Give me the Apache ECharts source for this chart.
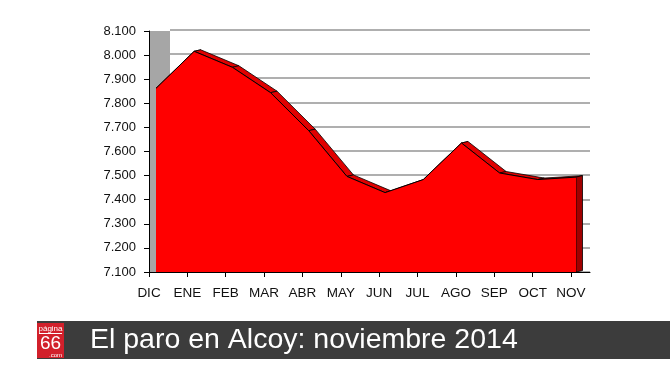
<!DOCTYPE html>
<html>
<head>
<meta charset="utf-8">
<script src="https://cdn.jsdelivr.net/npm/echarts@6/dist/echarts.min.js"></script>
<style>
html,body{margin:0;padding:0;background:#fff;}
#c{width:670px;height:377px;}
</style>
</head>
<body>
<div id="c"></div>
<script>
const categories = ['DIC','ENE','FEB','MAR','ABR','MAY','JUN','JUL','AGO','SEP','OCT','NOV'];
const paro = [7859, 8012, 7946, 7841, 7684, 7495, 7428, 7482, 7633, 7509, 7482, 7492];
const yMin = 7100;
const yMax = 8100;
const yStep = 100;
const titleText = 'El paro en Alcoy: noviembre 2014';

const FONT = '"Liberation Sans", Arial, sans-serif';
const chart = echarts.init(document.getElementById('c'), null, {renderer: 'canvas'});

const hiddenValueX = i => ({type: 'value', gridIndex: i, show: false});
const hiddenValueY = i => ({type: 'value', gridIndex: i, show: false, min: yMin, max: yMax});

chart.setOption({
  animation: false,
  backgroundColor: '#ffffff',
  grid: [
    {left: 149, top: 31, width: 441, height: 241},                    // y labels
    {left: 170, top: 29.5, width: 420, height: 242.5},                // back wall
    {left: 149, top: 30, width: 422, height: 242},                    // category axis
    {left: 150, top: 31, width: 20, height: 241, show: true,
     backgroundColor: '#a6a6a6', borderWidth: 0},                     // side wall
    {left: 156, top: 30, width: 420, height: 242}                     // front face
  ],
  xAxis: [
    hiddenValueX(0),
    {type: 'value', gridIndex: 1, min: 0, max: 1, z: 10,
     axisLine: {show: true, lineStyle: {color: '#000', width: 1}},
     axisTick: {show: false}, axisLabel: {show: false}, splitLine: {show: false}},
    {type: 'category', gridIndex: 2, data: categories, boundaryGap: false, z: 10,
     axisLine: {show: true, lineStyle: {color: '#000', width: 1}},
     axisTick: {show: true, length: 5, lineStyle: {color: '#000'}},
     axisLabel: {color: '#111', fontSize: 13.5, fontFamily: FONT, margin: 14, interval: 0},
     splitLine: {show: false}},
    {type: 'value', gridIndex: 3, show: false},
    {type: 'category', gridIndex: 4, data: categories, boundaryGap: false, show: false}
  ],
  yAxis: [
    {type: 'value', gridIndex: 0, min: yMin, max: yMax, interval: yStep, z: 10,
     axisLine: {show: true, lineStyle: {color: '#000', width: 1}},
     axisTick: {show: true, length: 5, lineStyle: {color: '#000'}},
     axisLabel: {color: '#111', fontSize: 13, fontFamily: FONT, margin: 13,
                 formatter: v => (v / 1000).toFixed(3)},
     splitLine: {show: false}},
    {type: 'value', gridIndex: 1, min: yMin, max: yMax, interval: yStep,
     axisLine: {show: false}, axisTick: {show: false}, axisLabel: {show: false},
     splitLine: {show: true, lineStyle: {color: '#959595', width: 1.5}}},
    hiddenValueY(2),
    hiddenValueY(3),
    {type: 'value', gridIndex: 4, min: yMin, max: yMax, show: false}
  ],
  series: [
    {
      type: 'custom',
      xAxisIndex: 4, yAxisIndex: 4,
      z: 2,
      silent: true,
      data: paro.map((v, i) => [i, v]),
      encode: {x: 0, y: 1},
      renderItem: function (params, api) {
        const i = params.dataIndex;
        const dx = 6.5, dy = -1.5;
        const p = api.coord([i, paro[i]]);
        let pts, fill;
        if (i < paro.length - 1) {
          const q = api.coord([i + 1, paro[i + 1]]);
          pts = [p, q, [q[0] + dx, q[1] + dy], [p[0] + dx, p[1] + dy]];
          fill = '#e00000';
        } else {
          const b = api.coord([i, yMin]);
          pts = [p, [p[0] + dx, p[1] + dy], [b[0] + dx, b[1] + dy], b];
          fill = '#a00000';
        }
        return {type: 'polygon', shape: {points: pts},
                style: {fill: fill, stroke: '#000', lineWidth: 0.8}};
      }
    },
    {
      type: 'line',
      xAxisIndex: 4, yAxisIndex: 4,
      z: 3,
      silent: true,
      data: paro,
      symbol: 'none',
      lineStyle: {color: '#000', width: 1},
      areaStyle: {color: '#ff0000', opacity: 1, origin: 'start'}
    }
  ],
  graphic: [
    {type: 'rect', shape: {x: 37, y: 321, width: 633, height: 38}, style: {fill: '#3c3c3c'}},
    {type: 'rect', shape: {x: 37, y: 323, width: 27, height: 35}, style: {fill: '#d2202b'}},
    {type: 'text', x: 50.5, y: 328.5, style: {text: 'página', fill: '#fff', fontSize: 8,
      fontFamily: FONT, align: 'center', verticalAlign: 'middle'}},
    {type: 'line', shape: {x1: 39, y1: 333.5, x2: 62, y2: 333.5}, style: {stroke: '#fff', lineWidth: 1}},
    {type: 'text', x: 50.5, y: 344, style: {text: '66', fill: '#fff', fontSize: 19,
      fontFamily: FONT, align: 'center', verticalAlign: 'middle'}},
    {type: 'text', x: 62, y: 355, style: {text: '.com', fill: '#fff', fontSize: 6,
      fontFamily: FONT, align: 'right', verticalAlign: 'middle'}},
    {type: 'text', x: 90, y: 340.5, style: {text: titleText, fill: '#fff', fontSize: 28.5,
      fontFamily: FONT, align: 'left', verticalAlign: 'middle'}}
  ]
});
</script>
</body>
</html>
